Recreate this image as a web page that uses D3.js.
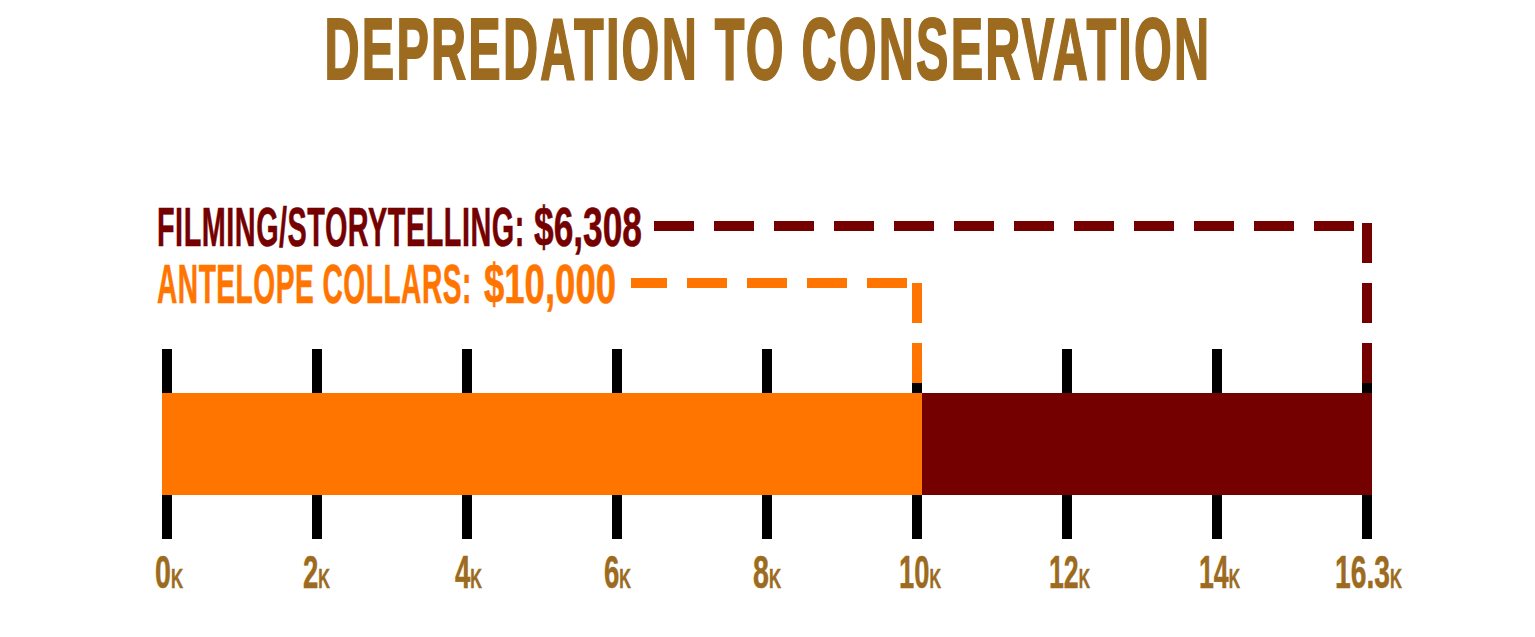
<!DOCTYPE html>
<html>
<head>
<meta charset="utf-8">
<script src="https://cdn.jsdelivr.net/npm/d3@7/dist/d3.min.js"></script>
<style>
html,body{margin:0;padding:0;background:#fff;overflow:hidden}
svg{display:block}
text{font-family:"Liberation Sans Narrow","Liberation Sans",sans-serif;font-weight:700}
</style>
</head>
<body>
<svg id="c" width="1535" height="637"></svg>
<script>
const titleText = "DEPREDATION TO CONSERVATION";
const categories = ["ANTELOPE COLLARS", "FILMING/STORYTELLING"];
const amounts = [10000, 6308];
const amountLabels = ["$10,000", "$6,308"];
const tickLabels = ["0", "2", "4", "6", "8", "10", "12", "14", "16.3"];
const colors = ["#ff7500", "#750000"];
const brown = "#9c6b20";

const svg = d3.select("#c");
const cum = d3.cumsum(amounts);

const xBar = d3.scaleLinear().domain([0, cum[0], cum[1]]).range([162, 922, 1372]);
const xTick = d3.scalePoint().domain(tickLabels).range([167, 1367]);

// title
const title = svg.append("text").text(titleText).attr("font-size", 88).attr("fill", brown)
  .attr("stroke", brown).attr("stroke-width", 2).attr("letter-spacing", 4);
{
  const k = 887 / title.node().getComputedTextLength();
  title.attr("transform", `translate(324.5,78.5) scale(${k},1)`);
}

// axes (ticks above and below the bar)
const axisTop = d3.axisTop(xTick).tickSize(44).tickFormat("").offset(0);
const axisBottom = d3.axisBottom(xTick).tickSize(44).tickFormat("").offset(0);
[[axisTop, 393], [axisBottom, 495]].forEach(([a, y]) => {
  const g = svg.append("g").attr("transform", `translate(0,${y})`).call(a);
  g.select(".domain").remove();
  g.selectAll("line").attr("stroke", "#000").attr("stroke-width", 10);
});

// stacked bar
svg.selectAll("rect.seg").data(amounts).join("rect").attr("class", "seg")
  .attr("x", (d, i) => xBar(i ? cum[i - 1] : 0))
  .attr("width", (d, i) => xBar(cum[i]) - xBar(i ? cum[i - 1] : 0))
  .attr("y", 393).attr("height", 102)
  .attr("fill", (d, i) => colors[i]);

// labels and dashed connectors
const rows = [
  {i: 1, base: 246, y: 226, catW: 368, amtX: 534, amtW: 108, start: 654, endGap: 13, top: 223},
  {i: 0, base: 303, y: 283, catW: 315, amtX: 484, amtW: 132, start: 631, endGap: 10, top: 283}
];
rows.forEach(r => {
  const t = svg.append("text").attr("font-size", 56).attr("fill", colors[r.i])
    .attr("stroke", colors[r.i]).attr("stroke-width", 0.6);
  const a = t.append("tspan").attr("letter-spacing", 1).text(`${categories[r.i]}: `);
  const b = t.append("tspan").text(amountLabels[r.i]);
  const nCat = categories[r.i].length + 1;
  const wCat = t.node().getSubStringLength(0, nCat);
  const k = r.catW / wCat;
  b.attr("x", (r.amtX - 157) / k)
   .attr("textLength", r.amtW / k)
   .attr("lengthAdjust", "spacingAndGlyphs");
  t.attr("transform", `translate(157,${r.base}) scale(${k},1)`);

  const vx = xBar(cum[r.i]) - 5;
  svg.append("line").attr("x1", vx - r.endGap).attr("x2", r.start).attr("y1", r.y).attr("y2", r.y)
    .attr("stroke", colors[r.i]).attr("stroke-width", 10).attr("stroke-dasharray", "40 20");
  svg.append("line").attr("x1", vx).attr("x2", vx).attr("y1", r.top).attr("y2", 383)
    .attr("stroke", colors[r.i]).attr("stroke-width", 10).attr("stroke-dasharray", "40 20");
});

// tick labels
const labelLayout = {
  "0": [28, 2], "2": [27, -0.5], "4": [27, 1.5], "6": [27, 0.5], "8": [28, 0],
  "10": [42, 3], "12": [41, 2.5], "14": [41, 2.5], "16.3": [67, 1.5]
};
tickLabels.forEach(l => {
  const t = svg.append("text").attr("fill", brown).attr("stroke", brown).attr("stroke-width", 0.5)
    .attr("font-size", 46);
  t.append("tspan").text(l);
  t.append("tspan").text("K").attr("font-size", 27);
  const k = labelLayout[l][0] / t.node().getComputedTextLength();
  t.attr("text-anchor", "middle")
   .attr("transform", `translate(${xTick(l) + labelLayout[l][1]},588) scale(${k},1)`);
});
</script>
</body>
</html>
